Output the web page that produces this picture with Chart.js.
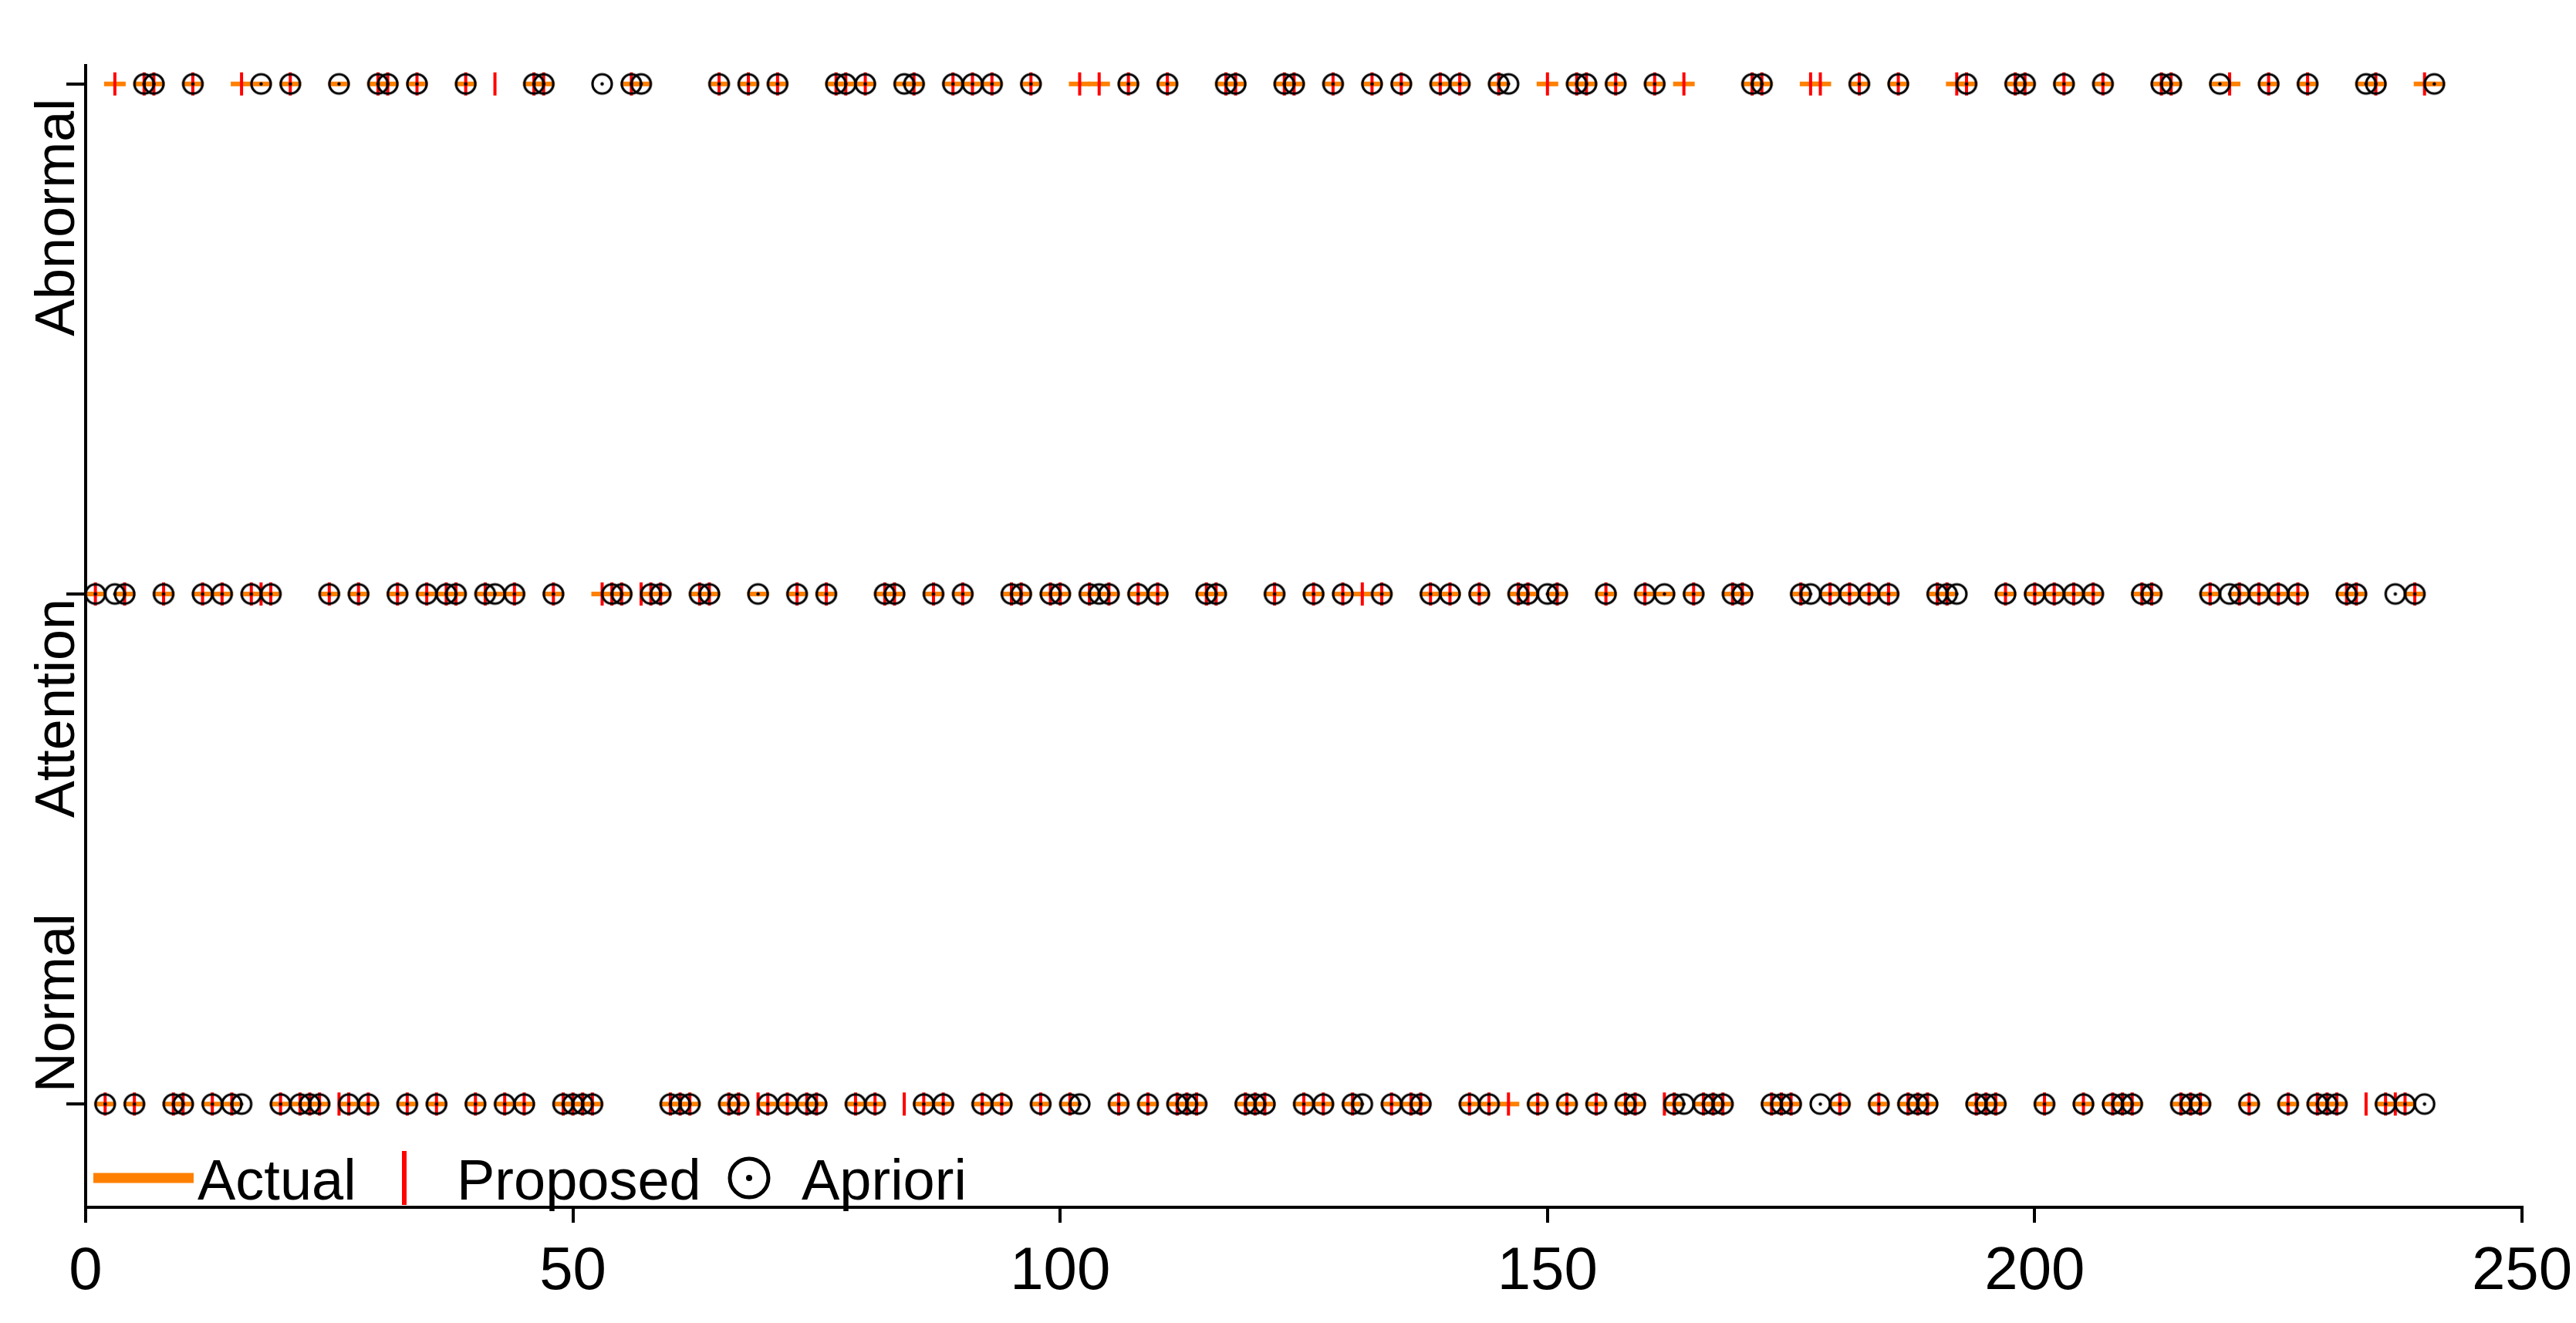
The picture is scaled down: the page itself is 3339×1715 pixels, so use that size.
<!DOCTYPE html>
<html><head><meta charset="utf-8">
<script src="https://cdn.jsdelivr.net/npm/chart.js@4.4.1/dist/chart.umd.min.js"></script>
<style>html,body{margin:0;padding:0;background:#fff;}canvas{display:block;}</style>
</head><body>
<canvas id="c" width="3339" height="1715" style="width:3339px;height:1715px"></canvas>
<script>
// ---------------- DATA ----------------
const categories = ['Normal', 'Attention', 'Abnormal'];   // y = 0, 1, 2
const seriesNames = ['Actual', 'Proposed', 'Apriori'];
const xTicks = [0, 50, 100, 150, 200, 250];

const actualNormal = [2,5,9,10,13,15,20,22,23,24,27,29,33,36,40,43,45,49,50,51,52,60,61,62,66,67,70,72,74,75,79,81,86,88,92,94,98,101,106,109,112,113,114,119,120,121,125,127,130,134,136,137,142,144,146,149,152,155,158,159,163,166,167,168,173,174,175,180,184,187,188,189,194,195,196,201,205,208,209,210,215,216,217,222,226,229,230,231,236,237,238];
const actualAttention = [1,4,8,12,14,17,19,25,28,32,35,37,38,41,42,44,48,53,54,55,58,59,63,64,69,73,76,82,83,87,90,95,96,99,100,103,105,108,110,115,116,122,126,129,131,133,138,140,143,147,148,151,156,160,162,165,169,170,176,179,181,183,185,190,191,197,200,202,204,206,211,212,218,221,223,225,227,232,233,239];
const actualAbnormal = [3,6,7,11,16,18,21,26,30,31,34,39,46,47,56,57,65,68,71,77,78,80,84,85,89,91,93,97,102,104,107,111,117,118,123,124,128,132,135,139,141,145,150,153,154,157,161,164,171,172,177,178,182,186,192,193,198,199,203,207,213,214,219,220,224,228,234,235,240,241];

const proposedNormal = [2,5,9,10,13,15,20,22,23,24,26,27,29,33,36,40,43,45,49,50,51,52,60,61,62,66,67,69,70,72,74,75,79,81,84,86,88,92,94,98,101,106,109,112,113,114,119,120,121,125,127,130,134,136,137,142,144,146,149,152,155,158,159,162,163,166,167,168,173,174,175,180,184,187,188,189,194,195,196,201,205,208,209,210,215,216,217,222,226,229,230,231,234,236,237,238];
const proposedAttention = [1,4,8,12,14,17,18,19,25,28,32,35,37,38,41,44,48,53,54,55,57,58,59,63,64,73,76,82,83,87,90,95,96,99,100,103,105,108,110,115,116,122,126,129,131,133,138,140,143,147,148,151,156,160,165,169,170,176,179,181,183,185,190,191,197,200,202,204,206,211,212,218,221,223,225,227,232,233,239];
const proposedAbnormal = [3,6,7,11,16,21,30,31,34,39,42,46,47,56,65,68,71,77,78,80,85,89,91,93,97,102,104,107,111,117,118,123,124,128,132,135,139,141,145,150,153,154,157,161,164,171,172,177,178,182,186,192,193,198,199,203,207,213,214,220,224,228,235,240];

const aprioriNormal = [2,5,9,10,13,15,16,20,22,23,24,27,29,33,36,40,43,45,49,50,51,52,60,61,62,66,67,70,72,74,75,79,81,86,88,92,94,98,101,102,106,109,112,113,114,119,120,121,125,127,130,131,134,136,137,142,144,149,152,155,158,159,163,164,166,167,168,173,174,175,178,180,184,187,188,189,194,195,196,201,205,208,209,210,215,216,217,222,226,229,230,231,236,238,240];
const aprioriAttention = [1,3,4,8,12,14,17,19,25,28,32,35,37,38,41,42,44,48,54,55,58,59,63,64,69,73,76,82,83,87,90,95,96,99,100,103,104,105,108,110,115,116,122,126,129,133,138,140,143,147,148,150,151,156,160,162,165,169,170,176,177,179,181,183,185,190,191,192,197,200,202,204,206,211,212,218,220,221,223,225,227,232,233,237,239];
const aprioriAbnormal = [6,7,11,18,21,26,30,31,34,39,46,47,53,56,57,65,68,71,77,78,80,84,85,89,91,93,97,107,111,117,118,123,124,128,132,135,139,141,145,146,153,154,157,161,171,172,182,186,193,198,199,203,207,213,214,219,224,228,234,235,241];

// ---------------- BUILD ----------------
function toPoints(lists) {
  const pts = [];
  lists.forEach((xs, catIdx) => xs.forEach(x => pts.push({ x: x, y: catIdx })));
  return pts;
}
const actualPts = toPoints([actualNormal, actualAttention, actualAbnormal]);
const proposedPts = toPoints([proposedNormal, proposedAttention, proposedAbnormal]);
const aprioriPts = toPoints([aprioriNormal, aprioriAttention, aprioriAbnormal]);

const ORANGE = '#FF8000';
const RED = '#FF0000';
const FONT = '"Liberation Sans", Arial, sans-serif';

function circleMarker(r, lw, dot) {
  const s = Math.ceil(2 * r + lw + 2);
  const c = document.createElement('canvas');
  c.width = s; c.height = s;
  const g = c.getContext('2d');
  g.strokeStyle = '#000'; g.lineWidth = lw;
  g.beginPath(); g.arc(s / 2, s / 2, r, 0, Math.PI * 2); g.stroke();
  g.fillStyle = '#000';
  g.beginPath(); g.arc(s / 2, s / 2, dot, 0, Math.PI * 2); g.fill();
  return c;
}
const aprioriMarker = circleMarker(12.5, 3.2, 2.2);

const yLabelPlugin = {
  id: 'yLabels',
  afterDraw(chart) {
    const ctx = chart.ctx, ys = chart.scales.y;
    ctx.save();
    ctx.fillStyle = '#000';
    ctx.font = '72px ' + FONT;
    ctx.textBaseline = 'alphabetic';
    categories.forEach((name, i) => {
      const py = ys.getPixelForValue(i);
      ctx.save();
      if (i === 0) { ctx.translate(96, py - 15); ctx.rotate(-Math.PI / 2); ctx.textAlign = 'left'; }
      else if (i === 1) { ctx.translate(96, py + 6); ctx.rotate(-Math.PI / 2); ctx.textAlign = 'right'; }
      else { ctx.translate(96, py + 19); ctx.rotate(-Math.PI / 2); ctx.textAlign = 'right'; }
      ctx.fillText(name, 0, 0);
      ctx.restore();
    });
    ctx.restore();
  }
};

const legendPlugin = {
  id: 'customLegend',
  afterDraw(chart) {
    const ctx = chart.ctx, a = chart.chartArea;
    const L = a.left, B = a.bottom;
    const cy = B - 38;
    ctx.save();
    // Actual
    ctx.strokeStyle = ORANGE; ctx.lineWidth = 13; ctx.lineCap = 'butt';
    ctx.beginPath(); ctx.moveTo(L + 10, cy); ctx.lineTo(L + 140, cy); ctx.stroke();
    // Proposed
    ctx.strokeStyle = RED; ctx.lineWidth = 6;
    ctx.beginPath(); ctx.moveTo(L + 413, cy - 35); ctx.lineTo(L + 413, cy + 35); ctx.stroke();
    // Apriori
    ctx.strokeStyle = '#000'; ctx.lineWidth = 5;
    ctx.beginPath(); ctx.arc(L + 860, cy, 25, 0, Math.PI * 2); ctx.stroke();
    ctx.fillStyle = '#000';
    ctx.beginPath(); ctx.arc(L + 860, cy, 4, 0, Math.PI * 2); ctx.fill();
    // texts
    ctx.font = '74px ' + FONT;
    ctx.textBaseline = 'alphabetic'; ctx.textAlign = 'left';
    ctx.fillText(seriesNames[0], L + 145, B - 10);
    ctx.fillText(seriesNames[1], L + 481, B - 10);
    ctx.fillText(seriesNames[2], L + 928, B - 10);
    ctx.restore();
  }
};

new Chart(document.getElementById('c'), {
  type: 'scatter',
  data: {
    datasets: [
      { label: seriesNames[2], data: aprioriPts, order: 1, pointStyle: aprioriMarker,
        pointRadius: 13, pointHoverRadius: 13, showLine: false },
      { label: seriesNames[1], data: proposedPts, order: 2, pointStyle: 'line', pointRotation: 90,
        pointRadius: 15, pointHoverRadius: 15, borderColor: RED, backgroundColor: RED, pointBorderWidth: 4, borderWidth: 4, showLine: false },
      { label: seriesNames[0], data: actualPts, order: 3, pointStyle: 'line',
        pointRadius: 14, pointHoverRadius: 14, borderColor: ORANGE, backgroundColor: ORANGE, pointBorderWidth: 6, borderWidth: 6, showLine: false }
    ]
  },
  options: {
    responsive: false,
    animation: false,
    devicePixelRatio: 1,
    layout: { padding: { top: 85, right: 70, left: 0, bottom: 0 } },
    plugins: { legend: { display: false }, tooltip: { enabled: false } },
    scales: {
      x: {
        type: 'linear', min: 0, max: 250,
        afterBuildTicks: s => { s.ticks = xTicks.map(v => ({ value: v })); },
        afterFit: s => { s.height = 150; s.paddingLeft = 0; s.paddingRight = 0; },
        grid: { display: true, drawOnChartArea: false, drawTicks: true, tickLength: 20, color: '#000', lineWidth: 4 },
        border: { display: true, color: '#000', width: 4 },
        ticks: { color: '#000', font: { family: FONT, size: 78 }, padding: 18, maxRotation: 0 }
      },
      y: {
        type: 'linear', min: -0.2024, max: 2.036,
        afterBuildTicks: s => { s.ticks = categories.map((c, i) => ({ value: i })); },
        afterFit: s => { s.width = 111; s.paddingTop = 0; s.paddingBottom = 0; },
        grid: { display: true, drawOnChartArea: false, drawTicks: true, tickLength: 25, color: '#000', lineWidth: 4 },
        border: { display: true, color: '#000', width: 4 },
        ticks: { display: false }
      }
    }
  },
  plugins: [yLabelPlugin, legendPlugin]
});
</script>
</body></html>
